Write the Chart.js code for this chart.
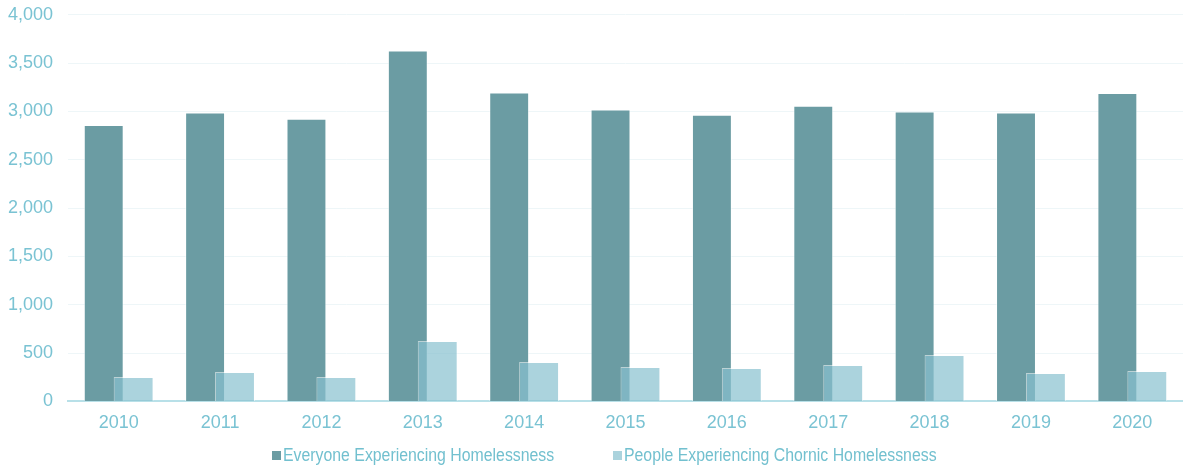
<!DOCTYPE html>
<html>
<head>
<meta charset="utf-8">
<script src="https://cdn.jsdelivr.net/npm/chart.js@4"></script>
<style>
  body { margin: 0; background: #fff; overflow: hidden; }
  #wrap { position: relative; width: 1183px; height: 468px; overflow: hidden; }
  canvas { display: block; margin-top: -11px; }
  .item {
    position: absolute; top: 445px; white-space: nowrap;
    font-family: "Liberation Sans", Arial, sans-serif;
    font-size: 18px; color: #72c0cf;
  }
  .item .box { display: inline-block; width: 9px; height: 9px; margin-right: 2px; vertical-align: 1px; }
  .item .txt { display: inline-block; transform: scaleX(0.88); transform-origin: left center; }
</style>
</head>
<body>
<div id="wrap">
  <canvas id="chart" width="1183" height="479"></canvas>
</div>
<script>
// Data
let years = ["2010", "2011", "2012", "2013", "2014", "2015", "2016", "2017", "2018", "2019", "2020"];
let everyone = [2860, 2990, 2925, 3630, 3195, 3020, 2965, 3060, 3000, 2990, 3190];
let chronic = [252, 304, 252, 625, 407, 356, 345, 376, 480, 293, 314];
let yTicks = [0, 500, 1000, 1500, 2000, 2500, 3000, 3500, 4000];

let tickColor = '#7ac3d3';
let tickFont = { family: "'Liberation Sans', Arial, sans-serif", size: 18 };

// draw first dataset first so the light bars sit on top
const drawInOrder = {
    id: 'drawInOrder',
    beforeDatasetsDraw(chart) {
        chart.getSortedVisibleDatasetMetas().forEach(m => chart._drawDataset(m));
        return false;
    }
};

let ctx = document.getElementById('chart').getContext('2d');
let chart = new Chart(ctx, {
    type: 'bar',
    data: {
        labels: years,
        datasets: [{
            label: "Everyone Experiencing Homelessness",
            data: everyone,
            backgroundColor: '#6b9ca3',
            borderColor: 'rgba(255,255,255,0.55)',
            borderWidth: 1,
            categoryPercentage: 0.59,
            barPercentage: 1.335
        }, {
            label: "People Experiencing Chornic Homelessness",
            data: chronic,
            backgroundColor: 'rgba(135,192,206,0.7)',
            borderColor: 'rgba(255,255,255,0.55)',
            borderWidth: 1,
            categoryPercentage: 0.59,
            barPercentage: 1.335
        }]
    },
    options: {
        responsive: false,
        animation: false,
        layout: { padding: { left: 7, right: 0, top: 0, bottom: 23 } },
        plugins: {
            legend: { display: false },
            tooltip: { enabled: false }
        },
        scales: {
            x: {
                grid: { display: false, drawTicks: false },
                border: { color: '#b8e0e8', width: 2 },
                ticks: { color: tickColor, font: tickFont, padding: 11 }
            },
            y: {
                min: 0,
                max: 4000,
                afterBuildTicks: axis => { axis.ticks = yTicks.map(v => ({ value: v })); },
                afterFit: axis => { axis.width = 61; },
                grid: { color: '#eef6f8', drawTicks: false },
                border: { display: false },
                ticks: {
                    color: tickColor,
                    font: tickFont,
                    padding: 15,
                    callback: v => v.toLocaleString('en-US')
                }
            }
        }
    },
    plugins: [drawInOrder]
});

// Legend
let legendLeft = [272, 613];
chart.data.datasets.forEach((ds, i) => {
    let item = document.createElement('div');
    item.className = 'item';
    item.style.left = legendLeft[i] + 'px';
    let box = document.createElement('span');
    box.className = 'box';
    box.style.background = ds.backgroundColor;
    let txt = document.createElement('span');
    txt.className = 'txt';
    txt.textContent = ds.label;
    item.appendChild(box);
    item.appendChild(txt);
    document.getElementById('wrap').appendChild(item);
});
</script>
</body>
</html>
